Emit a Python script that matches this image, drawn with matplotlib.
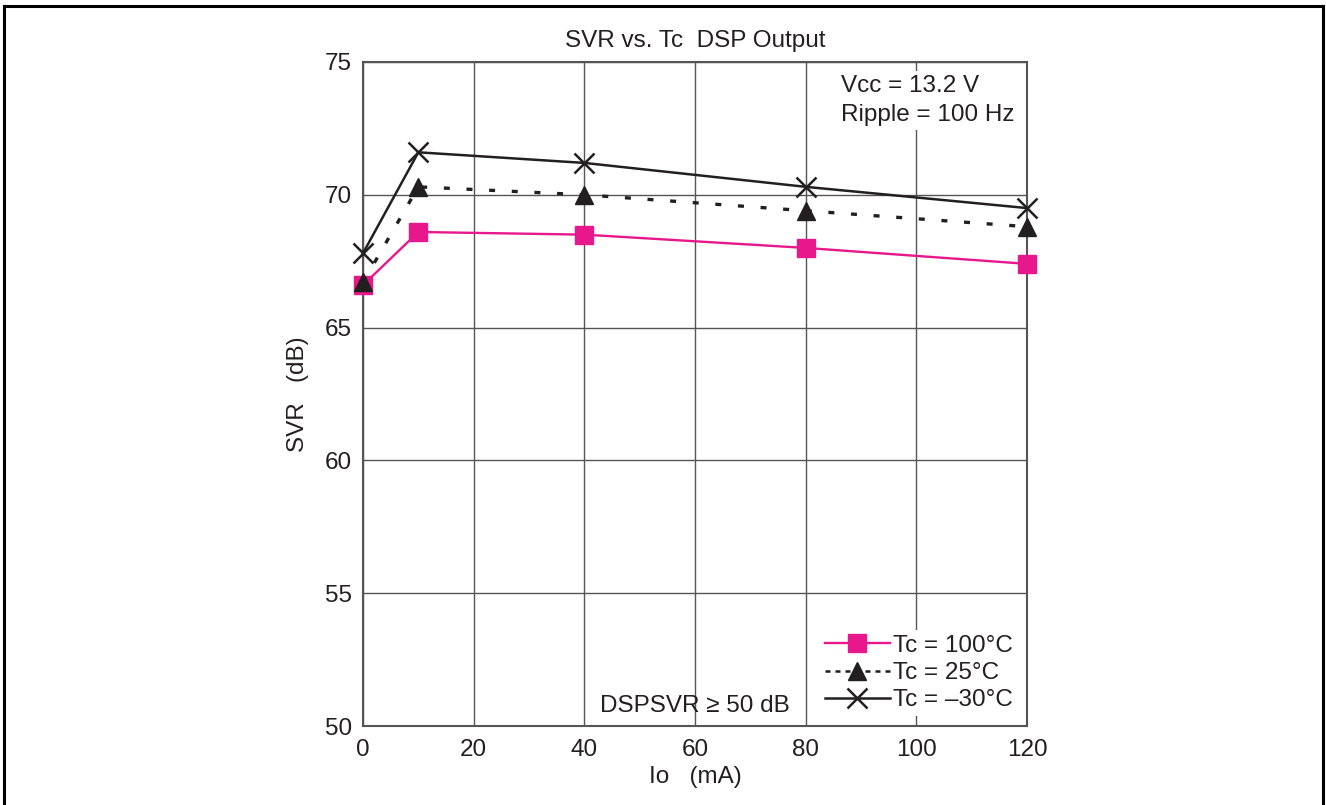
import matplotlib
matplotlib.use("Agg")
import matplotlib.pyplot as plt
from matplotlib.lines import Line2D

plt.rcParams['font.family'] = ['Liberation Sans', 'DejaVu Sans']

io_ma = [0, 10, 40, 80, 120]
svr_100 = [66.6, 68.6, 68.5, 68.0, 67.4]
svr_25 = [66.7, 70.3, 70.0, 69.4, 68.8]
svr_m30 = [67.8, 71.6, 71.2, 70.3, 69.5]
labels = ['Tc = 100°C', 'Tc = 25°C', 'Tc = \u201330°C']
xticks = [0, 20, 40, 60, 80, 100, 120]
yticks = [50, 55, 60, 65, 70, 75]

PINK = '#e8178c'
DARK = '#231f20'
GRID = '#555555'
FS = 17.5

fig = plt.figure(figsize=(13.26, 8.05), dpi=100)
ax = fig.add_axes([363/1326, 79/805, 664/1326, 664/805])

ax.plot(io_ma, svr_100, color=PINK, lw=1.7, marker='s', ms=12.5, zorder=3, clip_on=False)
ax.plot(io_ma, svr_25, color=DARK, lw=2.4, dashes=(1.8, 5.0), marker='^', ms=12.5, zorder=4, clip_on=False)
ax.plot(io_ma, svr_m30, color=DARK, lw=1.8, marker='x', ms=15, mew=1.8, zorder=5, clip_on=False)

ax.set_xlim(0, 120)
ax.set_ylim(50, 75)
ax.set_xticks(xticks)
ax.set_yticks(yticks)
ax.tick_params(length=0, labelsize=FS, colors=DARK)
ax.tick_params(axis='y', pad=8)
ax.tick_params(axis='x', pad=9)
ax.grid(True, color=GRID, lw=1.0)
ax.set_axisbelow(True)
for s in ax.spines.values():
    s.set_color(GRID)
    s.set_linewidth(1.5)

ax.set_title('SVR vs. Tc  DSP Output', fontsize=FS, color=DARK, pad=11)
ax.set_xlabel('Io   (mA)', fontsize=FS, color=DARK, labelpad=4)
ax.set_ylabel('SVR   (dB)', fontsize=FS, color=DARK, labelpad=11)

ax.text(0.72, 0.98, 'Vcc = 13.2 V\nRipple = 100 Hz', transform=ax.transAxes,
        fontsize=FS, color=DARK, va='top', ha='left', linespacing=1.4,
        bbox=dict(facecolor='white', edgecolor='none', pad=3), zorder=6)
ax.text(0.5, 0.03, 'DSPSVR \u2265 50 dB', transform=ax.transAxes,
        fontsize=FS, color=DARK, va='center', ha='center', zorder=6)

handles = [
    Line2D([], [], color=PINK, lw=1.7, marker='s', ms=12.5),
    Line2D([], [], color=DARK, lw=1.8, dashes=(2.0, 2.0), marker='^', ms=12.5),
    Line2D([], [], color=DARK, lw=1.8, marker='x', ms=15, mew=1.8),
]
leg = ax.legend(handles, labels, loc='lower right', bbox_to_anchor=(1.0, 0.0),
                fontsize=FS, handlelength=2.67, handletextpad=0.12, labelspacing=0.22,
                borderaxespad=0.4, frameon=True, fancybox=False, framealpha=1,
                facecolor='white', edgecolor='none', borderpad=0.2)
for t in leg.get_texts():
    t.set_color(DARK)
leg.set_zorder(7)

# outer frame (open at bottom)
fl = 4/1326; fr = 1323/1326; ft = 1 - 6/805
for xs, ys in [([fl, fl], [0, ft]), ([fl, fr], [ft, ft]), ([fr, fr], [ft, 0])]:
    fig.add_artist(Line2D(xs, ys, transform=fig.transFigure, color='black', lw=2.2))

fig.savefig('out.png', dpi=100)
